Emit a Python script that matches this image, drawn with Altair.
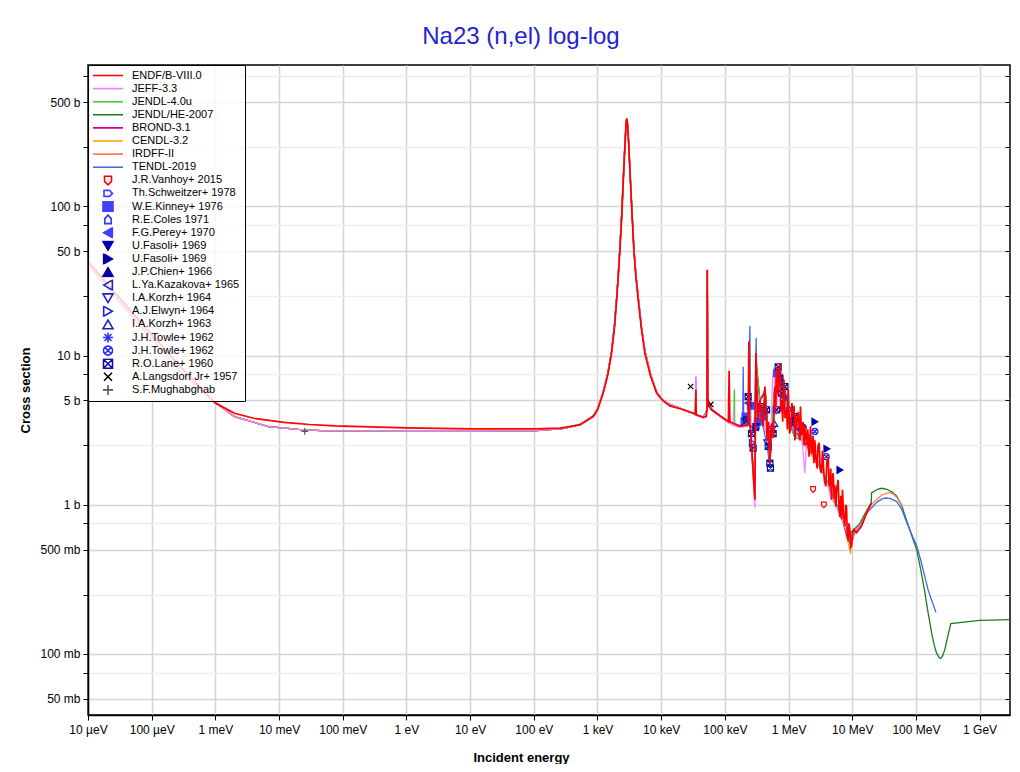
import altair as alt
import pandas as pd

TITLE = "Na23 (n,el) log-log"
X_TITLE = "Incident energy"
Y_TITLE = "Cross section"

X_TICKS = [1e-5, 1e-4, 1e-3, 1e-2, 1e-1, 1e0, 1e1, 1e2, 1e3, 1e4, 1e5, 1e6, 1e7, 1e8, 1e9]
X_LABELS = ["10 µeV", "100 µeV", "1 meV", "10 meV", "100 meV", "1 eV", "10 eV", "100 eV",
            "1 keV", "10 keV", "100 keV", "1 MeV", "10 MeV", "100 MeV", "1 GeV"]
Y_MAJOR = [0.05, 0.1, 0.5, 1, 5, 10, 50, 100, 500]
Y_LABELS = ["50 mb", "100 mb", "500 mb", "1 b", "5 b", "10 b", "50 b", "100 b", "500 b"]
Y_MINOR = [0.075, 0.25, 0.75, 2.5, 7.5, 25, 75, 250, 750]

LIB_NAMES = ["ENDF/B-VIII.0", "JEFF-3.3", "JENDL-4.0u", "JENDL/HE-2007",
             "BROND-3.1", "CENDL-3.2", "IRDFF-II", "TENDL-2019"]
LIB_COLORS = ["#ff0000", "#ff80ff", "#33cc33", "#1e7b1e",
              "#cc0099", "#ffa500", "#ff7f50", "#4169e1"]

EXP_NAMES = ["J.R.Vanhoy+ 2015", "Th.Schweitzer+ 1978", "W.E.Kinney+ 1976", "R.E.Coles 1971",
             "F.G.Perey+ 1970", "U.Fasoli+ 1969", "U.Fasoli+ 1969 ", "J.P.Chien+ 1966",
             "L.Ya.Kazakova+ 1965", "I.A.Korzh+ 1964", "A.J.Elwyn+ 1964", "I.A.Korzh+ 1963",
             "J.H.Towle+ 1962", "J.H.Towle+ 1962 ", "R.O.Lane+ 1960", "A.Langsdorf Jr+ 1957",
             "S.F.Mughabghab"]
EXP_COLORS = ["#ff0000", "#4040ff", "#4040ff", "#3030ff", "#4040ff", "#0000aa", "#0000aa", "#0000aa",
              "#1c1cc8", "#2020d0", "#2020e0", "#2020d0", "#3030ff", "#2a2af0", "#10109a",
              "#000000", "#555555"]
EXP_FILLS = ["transparent", "transparent", "#4040ff", "transparent", "#4040ff", "#0000aa", "#0000aa",
             "#0000aa", "transparent", "transparent", "transparent", "transparent", "transparent",
             "transparent", "transparent", "transparent", "transparent"]
LINE_SHAPE = "M-3,0H3"
EXP_SHAPES = [
    "M-0.7,-0.8H0.7V0.2L0,0.9L-0.7,0.2Z",
    "M-0.8,-0.6H0.3L0.9,0L0.3,0.6H-0.8Z",
    "square",
    "M-0.65,0.8V-0.2L0,-0.9L0.65,-0.2V0.8Z",
    "triangle-left",
    "triangle-down",
    "triangle-right",
    "triangle-up",
    "triangle-left",
    "triangle-down",
    "triangle-right",
    "triangle-up",
    "M0,-1V1M-1,0H1M-0.7,-0.7L0.7,0.7M-0.7,0.7L0.7,-0.7",
    "M0.9,0A0.9,0.9 0 1,1 -0.9,0A0.9,0.9 0 1,1 0.9,0M-0.64,-0.64L0.64,0.64M-0.64,0.64L0.64,-0.64",
    "M-0.9,-0.9H0.9V0.9H-0.9ZM-0.9,-0.9L0.9,0.9M-0.9,0.9L0.9,-0.9",
    "M-0.8,-0.8L0.8,0.8M-0.8,0.8L0.8,-0.8",
    "M0,-1V1M-1,0H1",
]

# ---- evaluated data (energy in eV, cross section in b) ----
ENDF = [(1e-5, 42.6), (3e-5, 24.8), (1e-4, 13.8), (3e-4, 8.2), (1e-3, 4.8), (2e-3, 4.1), (4e-3, 3.8),
        (1.2e-2, 3.56), (3e-2, 3.45), (7.5e-2, 3.38), (1, 3.27), (10, 3.22), (100, 3.22), (260, 3.26),
        (530, 3.43), (860, 3.9), (1000, 4.3), (1230, 5.6), (1450, 7.4), (1660, 10.3), (1850, 15.5),
        (2000, 23.7), (2120, 34), (2250, 51), (2400, 85), (2530, 142), (2650, 220), (2760, 310),
        (2820, 370), (2870, 389), (2950, 365), (3030, 310), (3150, 220), (3300, 142), (3500, 85),
        (3720, 51), (4000, 34), (4350, 23.7), (4900, 15), (5550, 10.3), (6800, 7.3), (8470, 5.6),
        (10500, 5.0), (13700, 4.6), (19700, 4.4), (31800, 4.1), (34500, 4.05), (35000, 5.9),
        (35500, 4.0), (46000, 3.85), (51000, 3.9), (52500, 4.4), (53000, 37.5), (53800, 5.2),
        (56000, 4.6), (61800, 4.33), (83500, 3.95), (113500, 3.6), (116700, 7.9), (120000, 3.6),
        (172000, 3.35), (194000, 3.38), (232000, 3.45), (238000, 12.4), (245000, 3.4),
        (251000, 3.38), (296000, 1.08), (307000, 10.4), (330000, 3.6), (355000, 5.05),
        (399000, 3.35), (425000, 6.2), (461000, 2.7), (485000, 3.6), (509000, 1.9), (541000, 3.5),
        (575000, 2.8), (610000, 6.2), (630000, 4.5), (649000, 8.4), (680000, 5.5), (711000, 7.05),
        (730000, 8.9), (755000, 4.2), (776000, 5.05), (810000, 3.6), (843000, 6.9), (880000, 3.8),
        (930000, 4.33), (960000, 3.2), (986000, 5.9), (1.04e6, 3.0), (1.09e6, 3.35), (1.13e6, 4.8),
        (1.18e6, 3.9), (1.22e6, 4.6), (1.26e6, 2.7), (1.3e6, 3.9), (1.33e6, 3.3), (1.42e6, 4.2),
        (1.5e6, 2.7), (1.54e6, 4.55), (1.6e6, 2.9), (1.69e6, 3.6), (1.75e6, 2.5), (1.82e6, 3.4),
        (1.92e6, 2.5), (2.0e6, 3.2), (2.1e6, 2.1), (2.21e6, 3.35), (2.3e6, 2.2), (2.43e6, 2.9),
        (2.5e6, 1.9), (2.59e6, 2.7), (2.7e6, 2.0), (2.81e6, 1.75), (2.9e6, 2.5), (3.02e6, 2.6),
        (3.15e6, 1.7), (3.3e6, 1.63), (3.4e6, 2.3), (3.49e6, 2.0), (3.65e6, 1.45), (3.85e6, 1.33),
        (4.0e6, 1.95), (4.19e6, 2.1), (4.3e6, 1.4), (4.45e6, 1.33), (4.6e6, 1.75), (4.73e6, 1.08),
        (4.85e6, 1.5), (5.01e6, 1.63), (5.2e6, 1.1), (5.35e6, 1.35), (5.53e6, 0.97), (5.75e6, 1.3),
        (6.01e6, 1.47), (6.2e6, 0.95), (6.39e6, 0.83), (6.6e6, 1.15), (6.8e6, 0.8), (7.03e6, 1.26),
        (7.3e6, 0.85), (7.65e6, 0.72), (7.9e6, 1.0), (8.13e6, 0.97), (8.35e6, 0.65), (8.63e6, 0.58),
        (8.9e6, 0.75), (9.16e6, 0.68), (9.45e6, 0.52), (9.75e6, 0.53), (1.0e7, 0.62),
        (1.06e7, 0.68), (1.17e7, 0.65), (1.4e7, 0.72), (1.68e7, 0.88), (2.0e7, 1.03)]

OTHERS_LOW = [(1e-5, 40.4), (3e-5, 23.4), (1e-4, 13.0), (3e-4, 7.6), (8.75e-4, 5.05), (2e-3, 3.9),
              (6.8e-3, 3.34), (2e-2, 3.2), (4.5e-2, 3.14), (1, 3.12), (10, 3.12), (100, 3.13),
              (300, 3.25), (530, 3.45), (857, 3.95), (1000, 4.4), (1230, 5.7), (1450, 7.6),
              (1660, 10.6), (1850, 16), (2000, 24.5), (2120, 35), (2250, 53), (2400, 88),
              (2530, 145), (2650, 222), (2760, 310), (2820, 362), (2870, 380), (2950, 358),
              (3030, 305), (3150, 222), (3300, 145), (3500, 88), (3720, 53), (4000, 35), (4350, 25),
              (4900, 15.5), (5550, 10.8), (6800, 7.5), (8470, 5.7), (10500, 5.05), (13700, 4.7),
              (19700, 4.45), (31800, 4.1)]

JEFF_FAST = [(34500, 4.0), (35000, 7.2), (35500, 4.0), (46000, 3.8), (52500, 4.3), (53000, 37),
             (53800, 5.1), (61800, 4.3), (83500, 3.9), (113500, 3.55), (135000, 3.4), (137000, 4.3),
             (139000, 3.4), (172000, 3.3), (232000, 3.4), (240000, 9.0), (250000, 3.3),
             (296000, 0.95), (305000, 6.0), (355000, 4.8), (420000, 3.3), (470000, 2.8),
             (520000, 2.2), (560000, 7.0), (590000, 8.3), (640000, 4.0), (700000, 7.5),
             (760000, 6.0), (850000, 5.5), (950000, 3.8), (1.1e6, 3.5), (1.3e6, 3.0), (1.55e6, 3.6),
             (1.8e6, 1.63), (1.95e6, 3.0), (2.3e6, 2.3), (2.8e6, 2.0), (3.3e6, 1.7), (3.9e6, 1.5),
             (4.6e6, 1.1), (5.5e6, 1.0), (6.5e6, 0.85), (7.6e6, 0.72), (8.6e6, 0.62), (9.7e6, 0.56),
             (1.1e7, 0.66), (1.4e7, 0.74), (1.7e7, 0.88), (2e7, 1.0)]

JENDL4_FAST = [(34500, 4.0), (35000, 6.0), (35500, 4.0), (46000, 3.85), (52500, 4.3), (53000, 37),
               (53800, 5.1), (61800, 4.35), (83500, 3.95), (113500, 3.6), (139000, 3.45),
               (141000, 5.95), (143000, 3.45), (172000, 3.35), (236000, 3.4), (240000, 10.5),
               (250000, 3.35), (296000, 1.1), (306000, 9.5), (355000, 5.0), (400000, 3.4),
               (430000, 5.8), (470000, 2.8), (510000, 2.0), (545000, 3.4), (610000, 6.0),
               (690000, 8.3), (780000, 5.2), (850000, 6.5), (950000, 4.3), (1.1e6, 3.3),
               (1.25e6, 2.9), (1.5e6, 2.9), (1.9e6, 2.6), (2.4e6, 2.2), (3.0e6, 1.9), (3.6e6, 1.6),
               (4.3e6, 1.35), (5.0e6, 1.15), (6.0e6, 0.95), (7.0e6, 0.8), (8.2e6, 0.66),
               (9.2e6, 0.56), (1.0e7, 0.62), (1.2e7, 0.66), (1.4e7, 0.74), (1.7e7, 0.9), (2e7, 1.04)]

JENDLHE_FAST = [(34500, 4.0), (35000, 6.0), (35500, 4.0), (46000, 3.85), (52500, 4.3), (53000, 37),
                (53800, 5.1), (61800, 4.35), (83500, 3.95), (113500, 3.6), (172000, 3.35),
                (236000, 3.4), (240000, 10.0), (250000, 3.35), (296000, 1.2), (306000, 9.0),
                (355000, 5.0), (430000, 5.6), (510000, 2.1), (610000, 6.0), (700000, 8.0),
                (850000, 6.2), (1.1e6, 3.3), (1.5e6, 2.9), (2.4e6, 2.2), (3.6e6, 1.6), (5.0e6, 1.15),
                (7.0e6, 0.8), (8.6e6, 0.6), (9.8e6, 0.66), (1.32e7, 0.75), (1.6e7, 0.88),
                (1.99e7, 1.03), (2.01e7, 1.2), (2.5e7, 1.27), (2.9e7, 1.29), (3.5e7, 1.27),
                (4.2e7, 1.22), (5e7, 1.14), (6e7, 0.98), (7.1e7, 0.79), (8.5e7, 0.63), (1.03e8, 0.5),
                (1.2e8, 0.36), (1.38e8, 0.26), (1.55e8, 0.19), (1.76e8, 0.139), (1.93e8, 0.115),
                (2.1e8, 0.102), (2.3e8, 0.095), (2.45e8, 0.093), (2.62e8, 0.097), (2.84e8, 0.107),
                (3.15e8, 0.13), (3.53e8, 0.16), (1e9, 0.168), (3e9, 0.17)]

BROND_FAST = [(34500, 4.0), (35000, 6.0), (35500, 4.0), (46000, 3.85), (52500, 4.3), (53000, 37),
              (53800, 5.1), (61800, 4.35), (83500, 3.95), (113500, 3.6), (172000, 3.35),
              (238000, 3.4), (242000, 9.5), (250000, 3.35), (296000, 1.1), (306000, 9.0),
              (355000, 5.0), (430000, 5.8), (510000, 2.0), (610000, 6.0), (700000, 8.2),
              (850000, 6.4), (1.1e6, 3.3), (1.5e6, 2.9), (2.4e6, 2.2), (3.6e6, 1.6), (5.0e6, 1.15),
              (7.0e6, 0.8), (8.6e6, 0.58), (9.7e6, 0.55), (1.1e7, 0.66), (1.4e7, 0.74),
              (1.7e7, 0.88), (2e7, 1.02)]

CENDL_FAST = [(34500, 4.0), (35000, 6.0), (35500, 4.0), (46000, 3.85), (52500, 4.3), (53000, 37),
              (53800, 5.1), (61800, 4.35), (83500, 3.95), (113500, 3.6), (172000, 3.35),
              (238000, 3.4), (242000, 9.5), (250000, 3.35), (296000, 1.1), (306000, 9.0),
              (355000, 5.0), (430000, 5.8), (510000, 2.0), (610000, 6.0), (700000, 8.2),
              (850000, 6.4), (1.1e6, 3.3), (1.5e6, 2.9), (2.4e6, 2.2), (3.6e6, 1.6), (5.0e6, 1.15),
              (7.0e6, 0.8), (8.6e6, 0.56), (9.4e6, 0.47), (9.8e6, 0.6), (1.1e7, 0.66),
              (1.4e7, 0.74), (1.7e7, 0.88), (2e7, 1.02)]

IRDFF_FAST = [(34500, 4.05), (35000, 5.9), (35500, 4.0), (46000, 3.85), (52500, 4.4), (53000, 37.5),
              (53800, 5.2), (61800, 4.33), (83500, 3.95), (113500, 3.6), (172000, 3.35),
              (238000, 3.4), (242000, 11.0), (250000, 3.35), (296000, 1.1), (306000, 10.0),
              (355000, 5.0), (430000, 6.0), (510000, 1.9), (610000, 6.2), (730000, 8.6),
              (850000, 6.6), (1.1e6, 3.3), (1.5e6, 2.8), (2.4e6, 2.1), (3.6e6, 1.6), (5.0e6, 1.1),
              (7.0e6, 0.8), (8.6e6, 0.58), (9.7e6, 0.53), (1.1e7, 0.66), (1.4e7, 0.74),
              (1.7e7, 0.88), (2e7, 1.0), (2.5e7, 1.1), (3.0e7, 1.17), (3.8e7, 1.21), (4.4e7, 1.18),
              (5.0e7, 1.12), (5.6e7, 1.05), (6.2e7, 0.97)]

TENDL_FAST = [(34500, 4.0), (35000, 7.2), (35500, 4.0), (46000, 3.85), (52500, 4.3), (53000, 37),
              (53800, 5.1), (62000, 4.4), (83000, 3.95), (120000, 3.6), (172000, 3.4),
              (190000, 3.4), (194000, 8.4), (198000, 3.4), (230000, 3.5), (247000, 15.8),
              (255000, 3.4), (290000, 3.2), (310000, 13.1), (320000, 3.5), (355000, 4.8),
              (400000, 3.3), (460000, 2.5), (509000, 1.8), (540000, 3.2), (610000, 6.5),
              (700000, 8.4), (780000, 5.5), (840000, 6.5), (930000, 4.2), (1.09e6, 3.3),
              (1.26e6, 2.8), (1.5e6, 2.8), (1.9e6, 2.6), (2.4e6, 2.2), (3.0e6, 1.9), (3.8e6, 1.5),
              (4.5e6, 1.3), (5.5e6, 1.0), (6.5e6, 0.85), (7.6e6, 0.72), (9.2e6, 0.62),
              (1.1e7, 0.65), (1.4e7, 0.75), (1.7e7, 0.88), (2.0e7, 0.95), (2.5e7, 1.05),
              (3.0e7, 1.1), (3.4e7, 1.11), (4.0e7, 1.1), (5.0e7, 1.05), (6.0e7, 0.93),
              (7.1e7, 0.77), (8.5e7, 0.64), (1.03e8, 0.53), (1.2e8, 0.42), (1.38e8, 0.33),
              (1.55e8, 0.27), (1.76e8, 0.23), (2.06e8, 0.19)]

# ---- experimental data (energy in eV, cross section in b) ----
VANHOY = [(2.43e6, 1.27), (3.58e6, 1.0)]
SCHWEITZER = [(1.45e6, 3.3), (1.9e6, 2.9)]
KINNEY = [(2.1e5, 3.9), (2.55e5, 4.6), (3.3e5, 3.6), (4.0e5, 3.9), (6.6e5, 7.6)]
COLES = [(8.2e5, 5.4), (1.0e6, 4.4)]
PEREY = [(1.1e6, 3.5), (1.4e6, 3.2)]
FASOLI_D = [(1.6e6, 3.1)]
FASOLI_R = [(2.59e6, 3.6), (4.0e6, 2.37), (6.4e6, 1.71)]
CHIEN = [(1.2e6, 3.9)]
KAZAKOVA = [(2.3e5, 4.8), (3.0e5, 3.3)]
KORZH64 = [(4.6e5, 2.6), (5.6e5, 3.2)]
ELWYN = [(2.0e5, 3.6), (2.7e5, 2.6)]
KORZH63 = [(3.6e5, 4.4), (6.0e5, 3.5)]
TOWLE_AST = [(7.0e5, 6.6), (9.0e5, 5.2)]
TOWLE_CX = [(2.59e6, 3.1), (3.9e6, 2.1), (1.7e6, 3.3)]
LANE = [(2.19e5, 3.7), (2.32e5, 5.3), (2.62e5, 3.0), (2.78e5, 2.4), (3.07e5, 3.34), (3.77e5, 4.55),
        (4.52e5, 4.33), (4.79e5, 2.46), (5.09e5, 1.9), (5.2e5, 1.76), (5.73e5, 3.0), (6.49e5, 4.33),
        (6.87e5, 8.4), (7.3e5, 7.05), (7.76e5, 5.6), (8.75e5, 6.2), (1.18e6, 3.6), (1.26e6, 3.9)]
LANGSDORF = [(2.9e4, 6.2), (6.0e4, 4.7)]
MUGHABGHAB = [(0.0253, 3.1)]

LIB_DATA = {
    "ENDF/B-VIII.0": ENDF,
    "JEFF-3.3": OTHERS_LOW + JEFF_FAST,
    "JENDL-4.0u": OTHERS_LOW + JENDL4_FAST,
    "JENDL/HE-2007": OTHERS_LOW + JENDLHE_FAST,
    "BROND-3.1": OTHERS_LOW + BROND_FAST,
    "CENDL-3.2": OTHERS_LOW + CENDL_FAST,
    "IRDFF-II": OTHERS_LOW + IRDFF_FAST,
    "TENDL-2019": OTHERS_LOW + TENDL_FAST,
}
EXP_DATA = [VANHOY, SCHWEITZER, KINNEY, COLES, PEREY, FASOLI_D, FASOLI_R, CHIEN, KAZAKOVA,
            KORZH64, ELWYN, KORZH63, TOWLE_AST, TOWLE_CX, LANE, LANGSDORF, MUGHABGHAB]

ALL_NAMES = LIB_NAMES + EXP_NAMES
stroke_scale = alt.Scale(domain=ALL_NAMES, range=LIB_COLORS + EXP_COLORS)
fill_scale = alt.Scale(domain=ALL_NAMES, range=["transparent"] * len(LIB_NAMES) + EXP_FILLS)
shape_scale = alt.Scale(domain=ALL_NAMES, range=[LINE_SHAPE] * len(LIB_NAMES) + EXP_SHAPES)

legend = alt.Legend(title=None, orient="top-left", offset=0, strokeColor="black",
                    fillColor="rgba(255,255,255,0.8)",
                    padding=5, labelFont="Liberation Sans", labelFontSize=11, labelColor="black",
                    symbolSize=100, symbolStrokeWidth=1.6, symbolOpacity=1, rowPadding=1.1,
                    clipHeight=11, labelLimit=300, symbolOffset=9, labelOffset=18, cornerRadius=0)

xscale = alt.Scale(type="log", domain=[1e-5, 3e9], nice=False)
yscale = alt.Scale(type="log", domain=[0.039, 885], nice=False)

x_label_expr = "[" + ",".join("'" + s + "'" for s in X_LABELS) + "][round(log(datum.value)/LN10)+5]"
major_arr = "[" + ",".join(str(v) for v in Y_MAJOR) + "]"
y_label_expr = ("indexof(" + major_arr + ", datum.value) >= 0 ? [" +
                ",".join("'" + s + "'" for s in Y_LABELS) + "][indexof(" + major_arr +
                ", datum.value)] : ''")

xaxis = alt.Axis(values=X_TICKS, labelExpr=x_label_expr, title=X_TITLE, grid=True,
                 gridColor="#d4d4d4", gridWidth=1.5, domainColor="black", domainWidth=1.5,
                 tickColor="black", tickSize=5, labelFont="Liberation Sans", labelFontSize=12,
                 labelColor="black", labelPadding=4, labelFlush=False, labelOverlap=False,
                 titleFont="Liberation Sans", titleFontSize=13, titleFontWeight="bold",
                 titleColor="black", titleX=433, titleY=36)
yaxis_left = alt.Axis(values=Y_MAJOR + Y_MINOR, labelExpr=y_label_expr, title=Y_TITLE, grid=True,
                      gridColor={"condition": {"test": "indexof(" + major_arr + ", datum.value) >= 0",
                                               "value": "#d4d4d4"}, "value": "#eeeeee"},
                      gridWidth=1.5, domainColor="black", domainWidth=1.5, tickColor="black",
                      tickSize=5, labelFont="Liberation Sans", labelFontSize=12, labelColor="black",
                      labelPadding=3, labelFlush=False, labelOverlap=False,
                      titleFont="Liberation Sans", titleFontSize=13, titleFontWeight="bold",
                      titleColor="black", titleX=-63, titleY=325, titleAngle=270,
                      titleAlign="center", titleBaseline="middle")
yaxis_right = alt.Axis(orient="right", values=Y_MAJOR + Y_MINOR, labels=False, title=None,
                       grid=False, domain=False, ticks=True, tickSize=5, tickColor="black",
                       offset=-5)


def line_layer(name, axis, width):
    df = pd.DataFrame(LIB_DATA[name], columns=["E", "xs"])
    df["series"] = name
    return alt.Chart(df).mark_line(strokeWidth=width, clip=True).encode(
        x=alt.X("E:Q", scale=xscale, axis=xaxis),
        y=alt.Y("xs:Q", scale=yscale, axis=axis),
        stroke=alt.Stroke("series:N", scale=stroke_scale, legend=legend),
    )


rows = []
for name, pairs in zip(EXP_NAMES, EXP_DATA):
    for e, s in pairs:
        rows.append({"E": e, "xs": s, "series": name})
exp_df = pd.DataFrame(rows)

points = alt.Chart(exp_df).mark_point(size=45, strokeWidth=1.2, opacity=1, clip=True).encode(
    x=alt.X("E:Q", scale=xscale, axis=xaxis),
    y=alt.Y("xs:Q", scale=yscale, axis=yaxis_right),
    stroke=alt.Stroke("series:N", scale=stroke_scale, legend=legend),
    fill=alt.Fill("series:N", scale=fill_scale, legend=legend),
    shape=alt.Shape("series:N", scale=shape_scale, legend=legend),
)

draw_order = ["JENDL/HE-2007", "TENDL-2019", "IRDFF-II", "CENDL-3.2", "BROND-3.1",
              "JENDL-4.0u", "JEFF-3.3"]
layers = [line_layer(n, None, 1.3) for n in draw_order]
layers.append(points)
layers.append(line_layer("ENDF/B-VIII.0", yaxis_left, 1.7))

chart = alt.layer(*layers).resolve_axis(y="independent").properties(
    width=922, height=650,
    title=alt.Title(TITLE, font="Liberation Sans", fontSize=24, fontWeight="normal",
                    color="#2323d2", anchor="middle", offset=16, dx=-28),
    autosize=alt.AutoSizeParams(type="none"),
    padding={"left": 80, "top": 57, "right": 2, "bottom": 49},
).configure_view(stroke="black", strokeWidth=1.5)

chart.save("out.html", embed_options={"renderer": "svg", "actions": False})
